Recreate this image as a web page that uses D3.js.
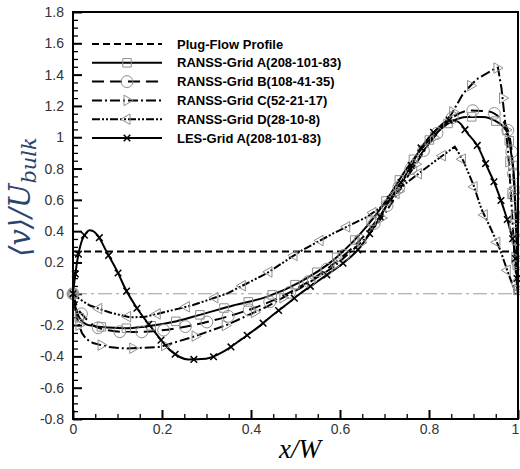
<!DOCTYPE html>
<html><head><meta charset="utf-8">
<script src="https://cdn.jsdelivr.net/npm/d3@7"></script>
<style>body{margin:0;background:#fff}svg{display:block}</style>
</head><body>
<svg id="c" width="520" height="469"></svg>
<script>
// ---- data ----
const xTicks = [0, 0.2, 0.4, 0.6, 0.8, 1];
const xTickLabels = ["0", "0.2", "0.4", "0.6", "0.8", "1"];
const yTicks = [-0.8, -0.6, -0.4, -0.2, 0, 0.2, 0.4, 0.6, 0.8, 1, 1.2, 1.4, 1.6, 1.8];
const yTickLabels = ["-0.8", "-0.6", "-0.4", "-0.2", "0", "0.2", "0.4", "0.6", "0.8", "1", "1.2", "1.4", "1.6", "1.8"];

const seriesNames = ["Plug-Flow Profile", "RANSS-Grid A(208-101-83)", "RANSS-Grid B(108-41-35)",
  "RANSS-Grid C(52-21-17)", "RANSS-Grid D(28-10-8)", "LES-Grid A(208-101-83)"];

const zeroX = [0, 1];
const zeroV = [0, 0];

const plugX = [0, 1];
const plugV = [0.27, 0.27];

const gridAX = [0, 0.005, 0.012, 0.02, 0.03, 0.045, 0.08, 0.12, 0.16, 0.233, 0.285, 0.36, 0.435, 0.51, 0.585, 0.66, 0.705, 0.75, 0.8, 0.85, 0.885, 0.92, 0.952, 0.975, 0.985, 0.992, 0.996, 1.0];
const gridAV = [0, -0.08, -0.14, -0.175, -0.195, -0.205, -0.215, -0.22, -0.21, -0.175, -0.135, -0.075, -0.02, 0.075, 0.215, 0.43, 0.6, 0.8, 0.98, 1.1, 1.13, 1.13, 1.10, 1.035, 0.89, 0.7, 0.4, 0];

const gridBX = [0, 0.005, 0.012, 0.023, 0.045, 0.083, 0.128, 0.195, 0.27, 0.345, 0.435, 0.51, 0.585, 0.66, 0.705, 0.75, 0.8, 0.85, 0.892, 0.933, 0.96, 0.975, 0.985, 0.993, 0.998, 1.0];
const gridBV = [0, -0.05, -0.1, -0.14, -0.2, -0.235, -0.245, -0.235, -0.2, -0.147, -0.06, 0.045, 0.19, 0.39, 0.56, 0.76, 0.96, 1.12, 1.17, 1.165, 1.12, 1.06, 0.93, 0.6, 0.3, 0];

const gridCX = [0, 0.005, 0.012, 0.02, 0.03, 0.045, 0.08, 0.12, 0.195, 0.27, 0.345, 0.435, 0.51, 0.585, 0.66, 0.705, 0.75, 0.8, 0.851, 0.877, 0.907, 0.943, 0.955, 0.963, 0.971, 0.978, 0.984, 0.99, 0.996, 1.0];
const gridCV = [0, -0.1, -0.19, -0.25, -0.29, -0.315, -0.34, -0.35, -0.34, -0.275, -0.2, -0.083, 0.035, 0.17, 0.36, 0.53, 0.74, 0.96, 1.15, 1.28, 1.37, 1.43, 1.445, 1.31, 1.10, 0.9, 0.64, 0.35, 0.1, 0];

const gridDX = [0, 0.015, 0.038, 0.083, 0.128, 0.16, 0.195, 0.27, 0.345, 0.435, 0.51, 0.585, 0.66, 0.705, 0.75, 0.81, 0.858, 0.877, 0.9, 0.918, 0.94, 0.96, 0.977, 0.995, 1.0];
const gridDV = [0, -0.035, -0.075, -0.12, -0.15, -0.148, -0.125, -0.072, 0.0, 0.13, 0.27, 0.386, 0.49, 0.58, 0.71, 0.84, 0.94, 0.85, 0.695, 0.54, 0.41, 0.28, 0.14, 0.0, 0.0];

const lesX = [0, 0.005, 0.012, 0.02, 0.03, 0.037, 0.045, 0.055, 0.077, 0.1, 0.118, 0.142, 0.18, 0.218, 0.259, 0.299, 0.338, 0.379, 0.42, 0.447, 0.479, 0.51, 0.55, 0.6, 0.64, 0.675, 0.712, 0.75, 0.784, 0.817, 0.847, 0.865, 0.888, 0.91, 0.929, 0.951, 0.966, 0.982, 0.993, 1.0];
const lesV = [0, 0.12, 0.25, 0.34, 0.39, 0.405, 0.4, 0.375, 0.26, 0.14, 0.03, -0.085, -0.23, -0.36, -0.42, -0.415, -0.37, -0.29, -0.205, -0.14, -0.07, 0.0, 0.08, 0.18, 0.28, 0.42, 0.6, 0.77, 0.94, 1.05, 1.11, 1.1, 1.02, 0.94, 0.82, 0.68, 0.56, 0.41, 0.26, 0];

// ---- layout ----
const W = 520, H = 469;
const L = 73, R = 518, T = 12, B = 419;
const svg = d3.select("#c");
const x = d3.scaleLinear().domain([0, 1]).range([L, R]);
const y = d3.scaleLinear().domain([-0.8, 1.8]).range([B, T]);

const zip = (xs, vs) => xs.map((d, i) => [d, vs[i]]);
const MK = "#8f8f8f";

// minor ticks
const xMinor = d3.range(0, 1.0001, 0.05).filter(v => Math.abs(v * 5 - Math.round(v * 5)) > 1e-6);
const yMinor = d3.range(-0.8, 1.8001, 0.05).filter(v => Math.abs(v * 5 - Math.round(v * 5)) > 1e-6);

const gx = svg.append("g").attr("transform", `translate(0,${B})`)
  .call(d3.axisBottom(x).tickValues(xTicks).tickSize(-9).tickPadding(5)
    .tickFormat((d, i) => xTickLabels[i]));
const gxm = svg.append("g").attr("transform", `translate(0,${B})`)
  .call(d3.axisBottom(x).tickValues(xMinor).tickSize(-5).tickFormat(""));
const gy = svg.append("g").attr("transform", `translate(${L},0)`)
  .call(d3.axisLeft(y).tickValues(yTicks).tickSize(-9).tickPadding(9)
    .tickFormat((d, i) => yTickLabels[i]));
const gym = svg.append("g").attr("transform", `translate(${L},0)`)
  .call(d3.axisLeft(y).tickValues(yMinor).tickSize(-5).tickFormat(""));
[gx, gxm, gy, gym].forEach(g => {
  g.select(".domain").remove();
  g.selectAll("line").attr("stroke", "#000").attr("stroke-width", 1.3);
  g.selectAll("text").attr("font-family", "Liberation Sans, Arial, sans-serif")
    .attr("font-size", 14).attr("fill", "#333");
});
[gx, gy].forEach(g => g.selectAll("line").attr("stroke-width", 2));
// keep the last x label inside the window
gx.selectAll(".tick text").filter(d => d === 1).attr("dx", -3);

// zero reference line
const lineLin = d3.line().x(d => x(d[0])).y(d => y(d[1]));
svg.append("path").attr("d", lineLin(zip(zeroX, zeroV)))
  .attr("fill", "none").attr("stroke", "#9a9a9a").attr("stroke-width", 1)
  .attr("stroke-dasharray", "14,4,3,4");

// series style config
const styles = [
  { data: zip(plugX, plugV), dash: "7,4", marker: null, curve: d3.curveLinear, width: 2 },
  { data: zip(gridAX, gridAV), dash: null, marker: "square", spacing: 25, curve: d3.curveMonotoneX, width: 2 },
  { data: zip(gridBX, gridBV), dash: "12,6", marker: "circle", spacing: 22, curve: d3.curveMonotoneX, width: 2 },
  { data: zip(gridCX, gridCV), dash: "10,3,2,3", marker: "tri-right", spacing: 32, curve: d3.curveLinear, width: 2 },
  { data: zip(gridDX, gridDV), dash: "8,2,2,2,2,2", marker: "tri-left", spacing: 30, curve: d3.curveLinear, width: 2 },
  { data: zip(lesX, lesV), dash: null, marker: "x", spacing: 20, curve: d3.curveMonotoneX, width: 2 }
];

function drawMarker(g, type, px, py) {
  if (!type) return;
  let sym, size, rot = 0, stroke = MK, sw = 1;
  if (type === "square") { sym = d3.symbolSquare; size = 72; }
  else if (type === "circle") { sym = d3.symbolCircle; size = 110; }
  else if (type === "tri-right") { sym = d3.symbolTriangle; size = 48; rot = 90; }
  else if (type === "tri-left") { sym = d3.symbolTriangle; size = 48; rot = -90; }
  else if (type === "x") { sym = d3.symbolTimes; size = 30; stroke = "#000"; sw = 1.5; }
  g.append("path").attr("d", d3.symbol().type(sym).size(size)())
    .attr("transform", `translate(${px},${py}) rotate(${rot})`)
    .attr("fill", "none").attr("stroke", stroke).attr("stroke-width", sw);
}

const curvesG = svg.append("g");
const markG = svg.append("g");
styles.forEach(s => {
  const line = d3.line().x(d => x(d[0])).y(d => y(d[1])).curve(s.curve);
  const p = curvesG.append("path").attr("d", line(s.data))
    .attr("fill", "none").attr("stroke", "#000").attr("stroke-width", s.width)
    .attr("stroke-dasharray", s.dash);
  if (s.marker) {
    const node = p.node();
    const total = node.getTotalLength();
    for (let l = 0; l <= total; l += s.spacing) {
      const pt = node.getPointAtLength(l);
      drawMarker(markG, s.marker, pt.x, pt.y);
    }
  }
});

// frame
svg.append("rect").attr("x", L).attr("y", T).attr("width", R - L).attr("height", B - T)
  .attr("fill", "none").attr("stroke", "#000").attr("stroke-width", 2);

// legend
const lg = svg.append("g");
seriesNames.forEach((name, i) => {
  const s = styles[i];
  const yy = 44 + i * 18.8;
  lg.append("line").attr("x1", 92).attr("x2", 162).attr("y1", yy).attr("y2", yy)
    .attr("stroke", "#000").attr("stroke-width", 2).attr("stroke-dasharray", s.dash);
  drawMarker(lg, s.marker, 127, yy);
  lg.append("text").attr("x", 177).attr("y", yy).attr("dy", "0.35em")
    .attr("font-family", "Liberation Sans, Arial, sans-serif").attr("font-weight", "bold")
    .attr("font-size", 13).attr("fill", "#000").text(name);
});

// axis titles
svg.append("text").attr("x", 300).attr("y", 458).attr("text-anchor", "middle")
  .attr("font-family", "Liberation Serif, DejaVu Serif, serif").attr("font-style", "italic")
  .attr("font-size", 27).attr("fill", "#000").text("x/W");

const yt = svg.append("text").attr("transform", "translate(30,197) rotate(-90)")
  .attr("text-anchor", "middle")
  .attr("font-family", "DejaVu Serif, Liberation Serif, serif").attr("font-style", "italic")
  .attr("font-size", 29).attr("fill", "#2b4470");
yt.append("tspan").text("⟨v⟩/U");
yt.append("tspan").attr("font-size", 21).attr("dy", 6).text("bulk");
</script>
</body></html>
